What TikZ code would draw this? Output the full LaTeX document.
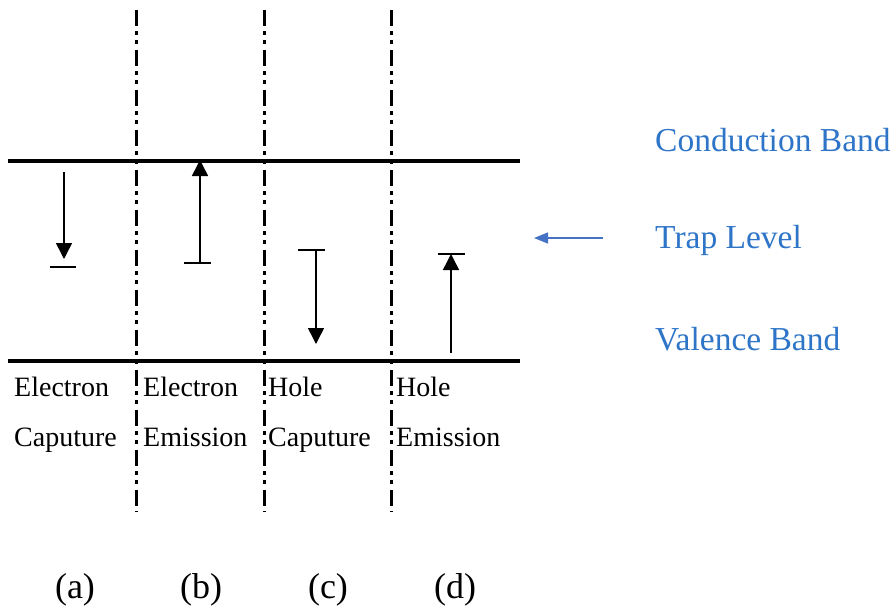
\documentclass[tikz,border=0pt]{standalone}
\usepackage{fontspec}
\setmainfont{Liberation Serif}
\usetikzlibrary{arrows.meta}
\definecolor{bluetxt}{HTML}{2E75C8}
\definecolor{bluearr}{HTML}{4472C4}
\begin{document}
\begin{tikzpicture}[x=1pt,y=-1pt,
  band/.style={line width=3.2pt},
  divider/.style={line width=3pt,dash pattern=on 16pt off 5pt on 4pt off 5pt on 4pt off 6pt},
  trans/.style={line width=1.5pt,-{Triangle[width=16pt,length=16pt]}},
  bar/.style={line width=1.5pt},
  lbl/.style={font=\fontsize{28}{30}\selectfont,anchor=base west,inner sep=0pt},
  blue lbl/.style={font=\fontsize{33.5}{36}\selectfont,text=bluetxt,anchor=west,inner sep=0pt},
  case/.style={font=\fontsize{36}{38}\selectfont,inner sep=0pt}]
\useasboundingbox (0,0) rectangle (894,611);
% bands
\coordinate (cbL) at (8,161); \coordinate (cbR) at (520,161);
\coordinate (vbL) at (8,361); \coordinate (vbR) at (520,361);
\draw[band] (cbL) -- (cbR);
\draw[band] (vbL) -- (vbR);
% dividers
\foreach \i/\x in {1/136,2/264,3/391}{
  \coordinate (dt\i) at (\x,10); \coordinate (db\i) at (\x,512);
  \draw[divider] (dt\i) -- (db\i);
}
% (a) electron capture
\coordinate (a1) at (64,172); \coordinate (a2) at (64,259);
\coordinate (ab1) at (50,267); \coordinate (ab2) at (76,267);
\draw[trans] (a1) -- (a2);
\draw[bar] (ab1) -- (ab2);
% (b) electron emission
\coordinate (b1) at (200,263); \coordinate (b2) at (200,160);
\coordinate (bb1) at (184,263); \coordinate (bb2) at (211,263);
\draw[trans] (b1) -- (b2);
\draw[bar] (bb1) -- (bb2);
% (c) hole capture
\coordinate (c1) at (316,250); \coordinate (c2) at (316,344);
\coordinate (cb1) at (298,250); \coordinate (cb2) at (325,250);
\draw[trans] (c1) -- (c2);
\draw[bar] (cb1) -- (cb2);
% (d) hole emission
\coordinate (d1) at (451,353); \coordinate (d2) at (451,254);
\coordinate (db1) at (438,254); \coordinate (db2) at (465,254);
\draw[trans] (d1) -- (d2);
\draw[bar] (db1) -- (db2);
% labels
\node[lbl] (la1) at (14,396) {Electron};
\node[lbl] (la2) at (14,446) {Caputure};
\node[lbl] (lb1) at (143,396) {Electron};
\node[lbl] (lb2) at (143,446) {Emission};
\node[lbl] (lc1) at (268,396) {Hole};
\node[lbl] (lc2) at (268,446) {Caputure};
\node[lbl] (ld1) at (396,396) {Hole};
\node[lbl] (ld2) at (396,446) {Emission};
% case labels
\node[case] (ca) at (75,590) {(a)};
\node[case] (cb) at (201,590) {(b)};
\node[case] (cc) at (328,590) {(c)};
\node[case] (cd) at (455,590) {(d)};
% right legend
\node[blue lbl] (cond) at (655,140) {Conduction Band};
\node[blue lbl] (trap) at (655,240) {Trap Level};
\node[blue lbl] (val) at (655,339) {Valence Band};
\coordinate (tp1) at (603,238); \coordinate (tp2) at (534,238);
\draw[bluearr,line width=1.3pt,-{Triangle[width=11pt,length=14pt]}] (tp1) -- (tp2);
\end{tikzpicture}
\end{document}
